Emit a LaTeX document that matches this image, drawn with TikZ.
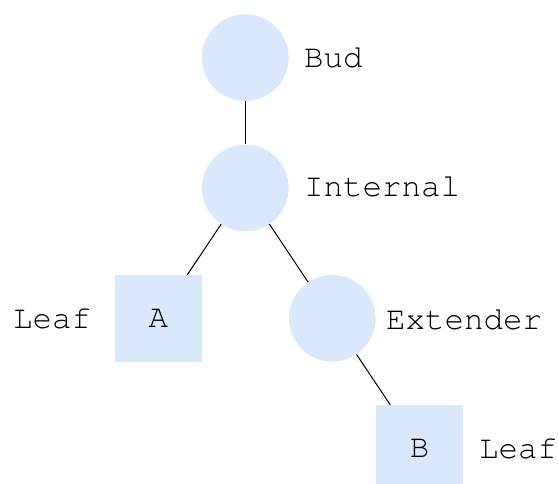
\documentclass[tikz,border=0pt]{standalone}
\usepackage[T1]{fontenc}
\usepackage{courier}
\definecolor{nodefill}{HTML}{DAE8FC}
\begin{document}
\begin{tikzpicture}[x=1pt,y=-1pt,
  every node/.style={font=\ttfamily\fontsize{32.5}{38}\selectfont},
  circ/.style={circle,fill=nodefill,draw=none,minimum size=86.7pt,inner sep=0pt},
  sq/.style={rectangle,fill=nodefill,draw=none,minimum size=86.7pt,inner sep=0pt},
  lbl/.style={anchor=base west,inner sep=0pt},
  edge/.style={draw=black,line width=1pt}]
\useasboundingbox (0,0) rectangle (558,484);
\begin{scope}
\clip (0,0) rectangle (558,484);
\node[circ] (bud) at (245.3,57.7) {};
\node[circ] (int) at (245.3,188) {};
\node[sq] (a) at (158.3,318.3) {A};
\node[circ] (ext) at (332.3,318.3) {};
\node[sq] (b) at (419.5,448.5) {B};
\end{scope}
\node[lbl] (tbud) at (304,67.7) {Bud};
\node[lbl] (tint) at (304,196.7) {Internal};
\node[lbl] (text) at (386,329.3) {Extender};
\node[lbl] (tla) at (13,328.3) {Leaf};
\node[lbl] (tlb) at (479,458.3) {Leaf};
\draw[edge] (bud) -- (int);
\draw[edge] (int) -- (a);
\draw[edge] (int) -- (ext);
\draw[edge] (ext) -- (b);
\end{tikzpicture}
\end{document}
